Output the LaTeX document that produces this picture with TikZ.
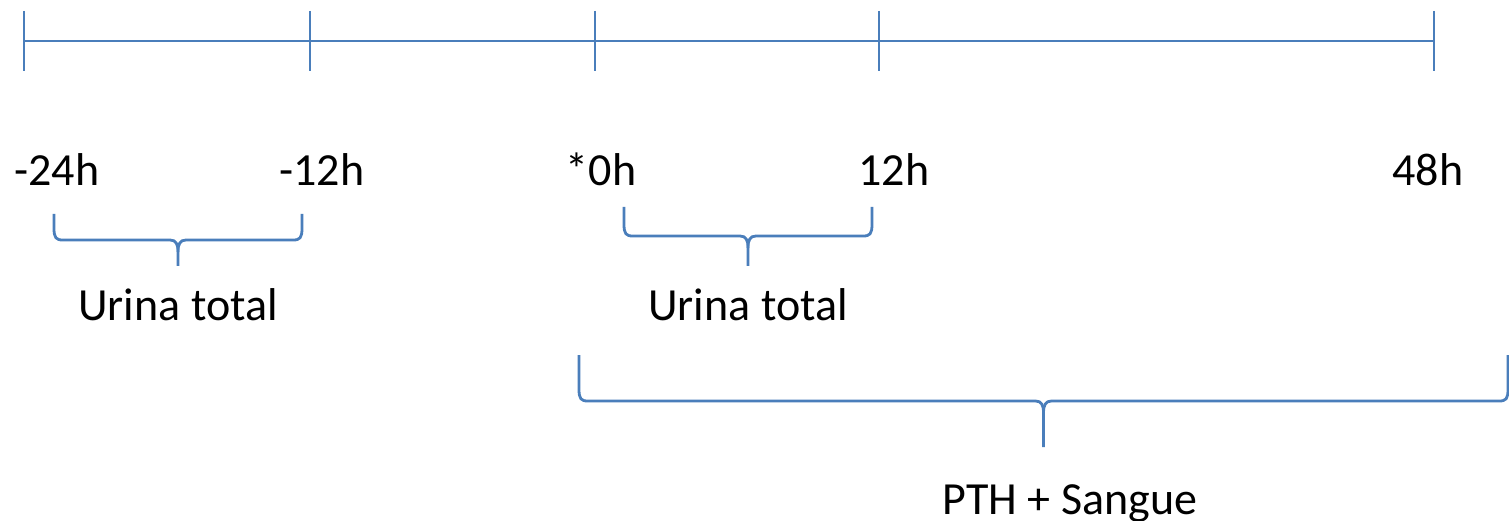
\documentclass[tikz,border=0pt]{standalone}
\usepackage{fontspec}
\setmainfont{Carlito}
\definecolor{lineblue}{RGB}{74,126,187}
\tikzset{
  axisline/.style={draw=lineblue, line width=2.6pt},
  tickline/.style={draw=lineblue, line width=2.2pt},
  bracestyle/.style={draw=lineblue, line width=2.8pt, line join=round},
  lbl/.style={anchor=base, inner sep=0pt, font=\fontsize{46}{50}\selectfont}
}
\newcommand{\mybrace}[5]{%
  \pgfmathsetmacro{\bxc}{(#1+#2)/2}%
  \draw[bracestyle] (#1,#3) -- (#1,#4-12) .. controls (#1,#4-2) and (#1+2,#4) .. (#1+9,#4)
     -- (\bxc-8,#4) .. controls (\bxc-2,#4) and (\bxc,#4+4) .. (\bxc,#4+12) -- (\bxc,#5);
  \draw[bracestyle] (#2,#3) -- (#2,#4-12) .. controls (#2,#4-2) and (#2-2,#4) .. (#2-9,#4)
     -- (\bxc+8,#4) .. controls (\bxc+2,#4) and (\bxc,#4+4) .. (\bxc,#4+12);
}
\begin{document}
\begin{tikzpicture}[x=1pt,y=-1pt]
\useasboundingbox (0,0) rectangle (1509,521);
% timeline
\coordinate (a0) at (24,41);
\coordinate (a4) at (1434,41);
\draw[axisline] (a0) -- (a4);
\foreach \x/\n in {24/t1,310/t2,595/t3,879/t4,1434/t5}{
  \coordinate (\n top) at (\x,11);
  \coordinate (\n bot) at (\x,71);
  \draw[tickline] (\n top) -- (\n bot);
}
% time labels
\node[lbl] (m24) at (57,186) {-24h};
\node[lbl] (m12) at (322,186) {-12h};
\node[lbl] (z0) at (601,186) {*0h};
\node[lbl] (p12) at (894,186) {12h};
\node[lbl] (p48) at (1428,186) {48h};
% braces
\mybrace{54}{302}{214}{240}{266}
\mybrace{624}{872}{207}{236}{266}
\mybrace{579}{1508}{355}{401}{447}
% brace labels
\node[lbl] (u1) at (178,320) {Urina total};
\node[lbl] (u2) at (748,320) {Urina total};
\node[lbl] (pth) at (1070,514) {PTH + Sangue};
\end{tikzpicture}
\end{document}
